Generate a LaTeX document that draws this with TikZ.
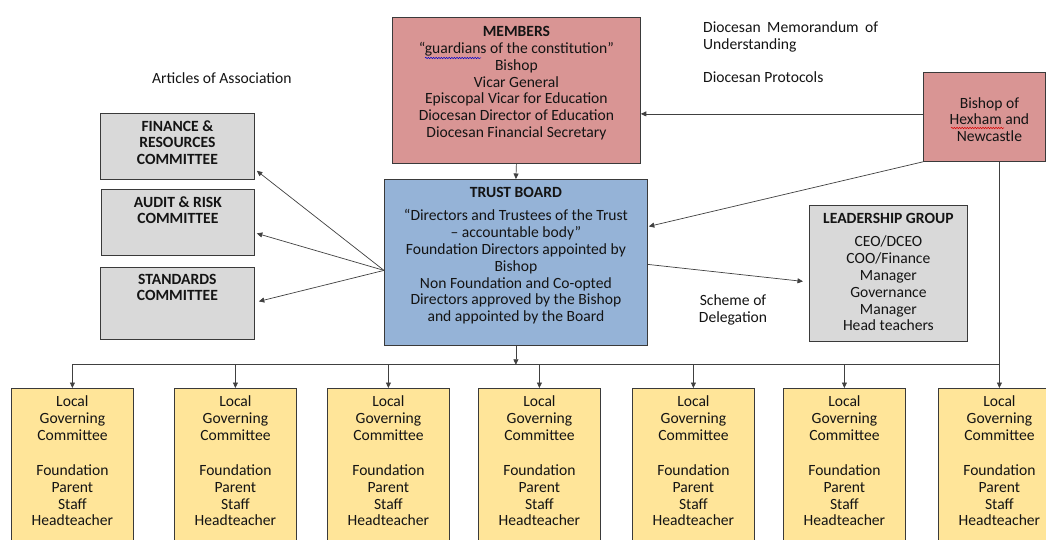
\documentclass[tikz,border=0pt]{standalone}
\usepackage{fontspec}
\setmainfont{Carlito}
\usetikzlibrary{arrows.meta,calc,decorations.pathmorphing}
\definecolor{memfill}{HTML}{D99594}
\definecolor{trustfill}{HTML}{95B3D7}
\definecolor{grayfill}{HTML}{D9D9D9}
\definecolor{lgcfill}{HTML}{FFE599}
\definecolor{boxline}{HTML}{3A3A3A}
\definecolor{lnc}{HTML}{404040}
\definecolor{txtc}{HTML}{141414}
\newcommand{\bx}[4]{\parbox[t][#2][t]{#1}{\vspace*{#3}\centering\setlength{\baselineskip}{16.8pt}\strut#4\par}}
\tikzset{
  boxn/.style={draw=boxline, line width=0.8pt, inner sep=0pt, anchor=north west, text=txtc},
  txt/.style={inner sep=0pt, text=txtc},
  arr/.style={draw=lnc, line width=0.7pt, -{Triangle[length=5.5pt,width=5pt]}},
  ln/.style={draw=lnc, line width=0.7pt},
  squig/.style={decorate, decoration={snake, amplitude=0.7pt, segment length=2.6pt}, line width=0.5pt}
}
\begin{document}
\begin{tikzpicture}[x=1pt,y=-1pt,font=\fontsize{15.6}{16.8}\selectfont]
\useasboundingbox (0,0) rectangle (1046,540);
\fill[white] (0,0) rectangle (1046,540);

% top boxes
\node[boxn, fill=memfill] (members) at (392,17) {\bx{248pt}{146pt}{7.5pt}{\textbf{MEMBERS}\\
“guardians of the constitution”\\ Bishop\\ Vicar General\\ Episcopal Vicar for Education\\ Diocesan Director of Education\\ Diocesan Financial Secretary}};
\node[boxn, fill=memfill] (bishop) at (923,72) {\bx{122pt}{89pt}{24pt}{\hspace*{10pt}Bishop of\\ \hspace*{10pt}Hexham and\\ \hspace*{10pt}Newcastle}};
\node[boxn, fill=trustfill] (trust) at (384,179) {\bx{263pt}{166pt}{6pt}{\textbf{TRUST BOARD}\\[7pt]
“Directors and Trustees of the Trust\\ – accountable body”\\ Foundation Directors appointed by\\ Bishop\\ Non Foundation and Co-opted\\ Directors approved by the Bishop\\ and appointed by the Board}};
\node[boxn, fill=grayfill] (finance) at (100,113) {\bx{154pt}{66pt}{6pt}{\textbf{FINANCE \&}\\ \textbf{RESOURCES}\\ \textbf{COMMITTEE}}};
\node[boxn, fill=grayfill] (audit) at (101,189) {\bx{153pt}{66pt}{6pt}{\textbf{AUDIT \& RISK}\\ \textbf{COMMITTEE}}};
\node[boxn, fill=grayfill] (standards) at (100,267) {\bx{154pt}{72pt}{5pt}{\textbf{STANDARDS}\\ \textbf{COMMITTEE}}};
\node[boxn, fill=grayfill] (leader) at (809,205) {\bx{158pt}{136pt}{6pt}{\textbf{LEADERSHIP GROUP}\\[7pt]
CEO/DCEO\\ COO/Finance\\ Manager\\ Governance\\ Manager\\ Head teachers}};

% local governing committees
\foreach \i/\x in {1/11,2/174,3/327,4/478,5/632,6/783,7/938}{
  \node[boxn, fill=lgcfill] (l\i) at (\x,388) {\bx{122pt}{175pt}{6.5pt}{Local\\ Governing\\ Committee\\[18.5pt] Foundation\\ Parent\\ Staff\\ Headteacher}};
}

% free texts
\node[txt, anchor=base west] (aoa) at (152,83.5) {Articles of Association};
\node[txt, anchor=base west] (mou) at (703,32.5) {\parbox[t]{175pt}{\setlength{\baselineskip}{16.8pt}Diocesan Memorandum of\linebreak Understanding}};
\node[txt, anchor=base west] (prot) at (703,82.5) {Diocesan Protocols};
\node[txt, anchor=base] (sod) at (733,305.5) {\parbox[t]{100pt}{\centering\setlength{\baselineskip}{16.8pt}Scheme of\\ Delegation}};

% spell-check squiggles
\draw[squig, draw=blue!80!black] (425,58) -- (481,58);
\draw[squig, draw=red!85!black] (951,128) -- (1004,128);

% connectors
\draw[arr] ($(bishop.west)+(0,-3)$) -- ($(members.east |- bishop.west)+(0,-3)$);
\draw[arr] (members.south) -- (trust.north);
\coordinate (tw) at ($(trust.west)+(0,8)$);
\draw[arr] (tw) -- ($(finance.south east)+(2,-9)$);
\draw[arr] (tw) -- ($(audit.east)+(2,11)$);
\draw[arr] (tw) -- ($(standards.east)+(4,-2)$);
\draw[arr] (bishop.south west) -- ($(trust.east)+(1,-36)$);
\draw[arr] ($(trust.east)+(0,2)$) -- ($(leader.west)+(-6,8)$);

\coordinate (bus) at ($(trust.south)+(0,19)$);
\draw[arr] (trust.south) -- (bus);
\draw[ln] (l1.north |- bus) -- (l7.north |- bus);
\draw[ln] (l7.north |- bishop.south) -- (l7.north |- bus);
\foreach \i in {1,...,7}{
  \draw[arr] (l\i.north |- bus) -- (l\i.north);
}
\end{tikzpicture}
\end{document}
